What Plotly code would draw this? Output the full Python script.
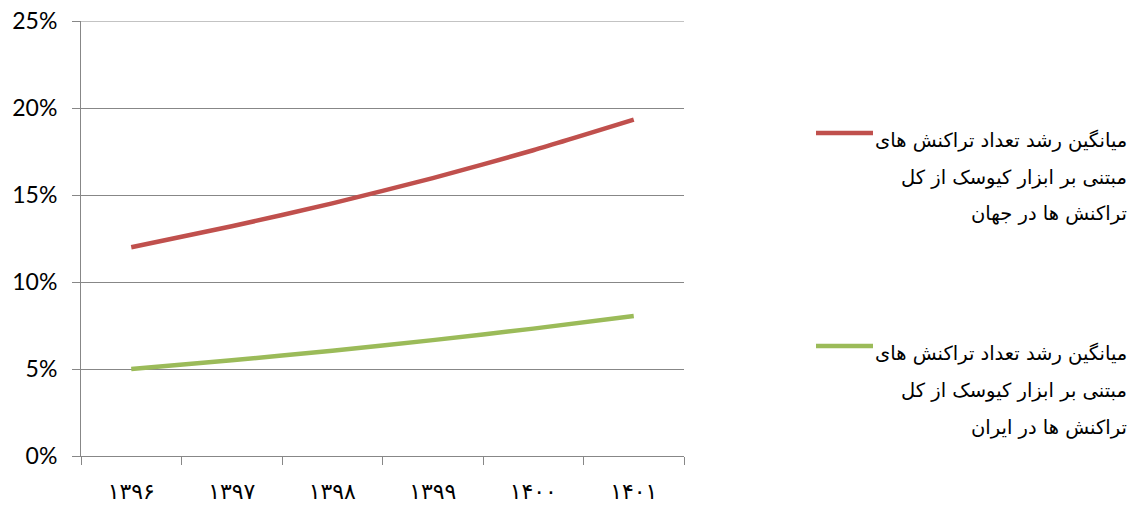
import plotly.graph_objects as go

# Solar-Hijri years on the category axis
years = ["۱۳۹۶", "۱۳۹۷", "۱۳۹۸", "۱۳۹۹", "۱۴۰۰", "۱۴۰۱"]

# Average growth share of kiosk-based transactions (percent)
world = [12.0, 13.2, 14.52, 15.97, 17.57, 19.33]
iran = [5.0, 5.5, 6.05, 6.66, 7.32, 8.05]

world_label = ["میانگین رشد تعداد تراکنش های", "مبتنی بر ابزار کیوسک از کل", "تراکنش ها در جهان"]
iran_label = ["میانگین رشد تعداد تراکنش های", "مبتنی بر ابزار کیوسک از کل", "تراکنش ها در ایران"]

y_ticks = [0, 5, 10, 15, 20, 25]

RED = "#C0504D"
GREEN = "#9BBB59"
GRID = "#878787"
TEXT_FONT = "Lato, 'DejaVu Sans', sans-serif"
FA_FONT = "'DejaVu Sans', 'Noto Sans', sans-serif"

fig = go.Figure()
fig.add_trace(go.Scatter(x=years, y=world, mode="lines", name=" ".join(world_label),
                         line=dict(color=RED, width=4.5, shape="spline", smoothing=0.6),
                         showlegend=False))
fig.add_trace(go.Scatter(x=years, y=iran, mode="lines", name=" ".join(iran_label),
                         line=dict(color=GREEN, width=4.5, shape="spline", smoothing=0.6),
                         showlegend=False))

# Top gridline (Plotly drops the one sitting on the plot edge)
fig.add_shape(type="line", xref="x domain", yref="y", x0=0, x1=1,
              y0=y_ticks[-1], y1=y_ticks[-1], line=dict(color=GRID, width=1), layer="below")

# Hand-built legend: coloured swatch followed by right-aligned Persian text
W, H = 1147, 505
L, R, T, B = 81, 463, 21, 49
pw, ph = W - L - R, H - T - B

def px(x):
    return (x - L) / pw

def py(y):
    return 1 - (y - T) / ph

for color, lines, first in [(RED, world_label, 140), (GREEN, iran_label, 353)]:
    fig.add_shape(type="line", xref="paper", yref="paper",
                  x0=px(816), x1=px(873), y0=py(first - 7), y1=py(first - 7),
                  line=dict(color=color, width=4.5))
    for i, line in enumerate(lines):
        fig.add_annotation(xref="paper", yref="paper", x=px(1129), y=py(first + 37 * i),
                           xanchor="right", yanchor="middle", align="right",
                           text=line, showarrow=False,
                           font=dict(family=FA_FONT, size=19.5, color="#000000"))

fig.update_layout(
    width=W, height=H,
    margin=dict(l=L, r=R, t=T, b=B, autoexpand=False),
    paper_bgcolor="white", plot_bgcolor="white",
    font=dict(family=TEXT_FONT, size=23, color="#000000"),
    xaxis=dict(type="category", range=[-0.5, 5.5], tickson="boundaries",
               ticks="outside", ticklen=8, tickcolor=GRID, tickwidth=1,
               showline=True, linecolor=GRID, linewidth=1,
               showgrid=False, zeroline=False, automargin=False,
               tickfont=dict(family=FA_FONT, size=22), ticklabelstandoff=16),
    yaxis=dict(range=[0, 25], tickvals=y_ticks,
               ticktext=[f"{v}%" for v in y_ticks],
               ticks="outside", ticklen=8, tickcolor=GRID, tickwidth=1,
               showline=True, linecolor=GRID, linewidth=1,
               showgrid=True, gridcolor=GRID, gridwidth=1, zeroline=False,
               automargin=False, ticklabelstandoff=10),
)

fig.write_html("out.html")
